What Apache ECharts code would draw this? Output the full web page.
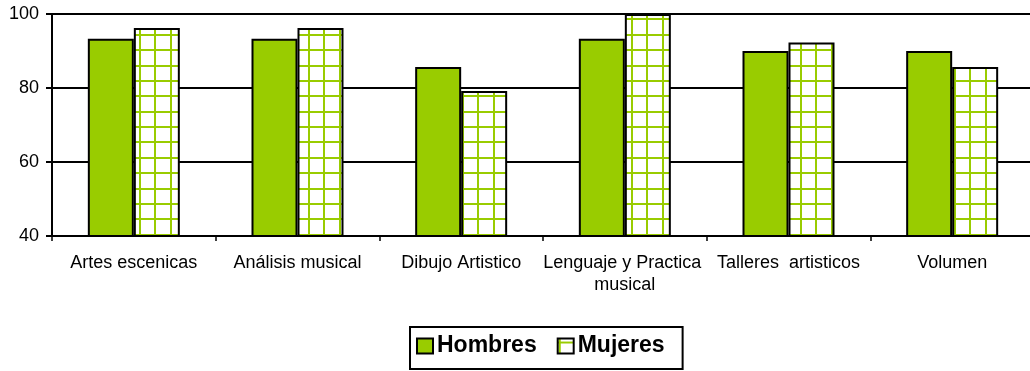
<!DOCTYPE html>
<html>
<head>
<meta charset="utf-8">
<script src="https://cdn.jsdelivr.net/npm/echarts@6/dist/echarts.min.js"></script>
<style>
  html, body { margin: 0; padding: 0; background: #fff; }
  #chart { width: 1030px; height: 371px; }
</style>
</head>
<body>
<div id="chart"></div>
<script>
// Course categories and percentage values per group
const categories = ['Artes escenicas', 'Análisis musical', 'Dibujo Artistico', 'Lenguaje y Practica musical', 'Talleres  artisticos', 'Volumen'];
const hombres = [93.3, 93.3, 85.7, 93.3, 90, 90];
const mujeres = [96.2, 96.2, 79.2, 100, 92.3, 85.7];
const seriesNames = ['Hombres', 'Mujeres'];
const yTicks = { min: 40, max: 100, step: 20 };

const GREEN = '#99CC00';
const FONT = "'Liberation Sans', Arial, sans-serif";

// White fill crossed by a green grid, used as the "Mujeres" bar fill
function checkPattern() {
  const size = 123;            // 8 cells of 15.375 px
  const cell = size / 8;
  const c = document.createElement('canvas');
  c.width = size; c.height = size;
  const ctx = c.getContext('2d');
  ctx.fillStyle = '#ffffff';
  ctx.fillRect(0, 0, size, size);
  ctx.fillStyle = GREEN;
  for (let k = 0; k < 8; k++) {
    const x = Math.round(0.5 + k * cell);
    const y = Math.round(3.1 + k * cell);
    ctx.fillRect(x, 0, 2, size);
    ctx.fillRect(0, y, size, 2);
  }
  return c;
}

const chart = echarts.init(document.getElementById('chart'), null, { renderer: 'canvas' });

chart.setOption({
  animation: false,
  backgroundColor: '#ffffff',
  textStyle: { fontFamily: FONT },
  grid: {
    left: 52, top: 14, width: 982, height: 222,
    containLabel: false,
    outerBoundsMode: 'none'
  },
  legend: {
    left: 410, top: 327,
    padding: [5, 18, 9, 6],
    borderColor: '#000', borderWidth: 2,
    itemWidth: 16, itemHeight: 15, itemGap: 20,
    icon: 'rect',
    textStyle: { fontFamily: FONT, fontSize: 23, fontWeight: 'bold', color: '#000', lineHeight: 28, padding: [0, 0, 0, -1] },
    data: seriesNames
  },
  xAxis: {
    type: 'category',
    data: categories,
    axisLine: { show: true, lineStyle: { color: '#000', width: 2 } },
    axisTick: { show: true, length: 5, lineStyle: { color: '#000', width: 1.5 } },
    axisLabel: {
      interval: 0, margin: 16, color: '#000',
      fontFamily: FONT, fontSize: 18, lineHeight: 22,
      width: 166, overflow: 'break'
    },
    splitLine: { show: false }
  },
  yAxis: {
    type: 'value',
    min: yTicks.min, max: yTicks.max, interval: yTicks.step,
    axisLine: { show: true, lineStyle: { color: '#000', width: 2 } },
    axisTick: { show: true, length: 6, lineStyle: { color: '#000', width: 2 } },
    axisLabel: { margin: 13, color: '#000', fontFamily: FONT, fontSize: 18 },
    splitLine: { show: true, lineStyle: { color: '#000', width: 2 } }
  },
  series: [
    {
      name: seriesNames[0], type: 'bar', data: hombres,
      barWidth: 46, barGap: '0%',
      itemStyle: { color: GREEN, borderColor: '#000', borderWidth: 2 }
    },
    {
      name: seriesNames[1], type: 'bar', data: mujeres,
      barWidth: 46, barGap: '0%',
      itemStyle: { color: { image: checkPattern(), repeat: 'repeat' }, borderColor: '#000', borderWidth: 2 }
    }
  ]
});
</script>
</body>
</html>
